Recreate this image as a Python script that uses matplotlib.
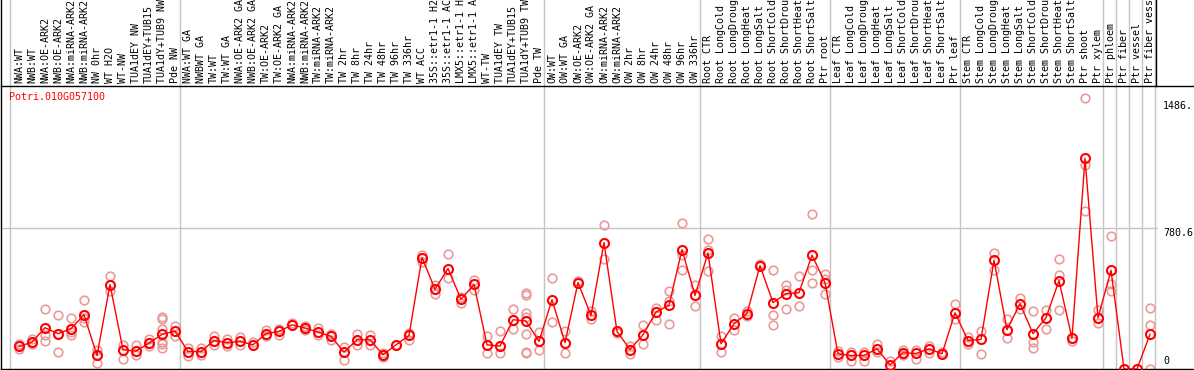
# Expressieprofiel Potri.010G057100
import matplotlib
matplotlib.use('Agg')
import matplotlib.pyplot as plt

# Labels per groep (zoals zichtbaar in de kop)
grp_nw = ["NWA:WT", "NWB:WT", "NWA:OE-ARK2", "NWB:OE-ARK2", "NWA:miRNA-ARK2", "NWB:miRNA-ARK2",
          "NW 0hr", "WT H2O", "WT-NW", "TUA1dEY NW", "TUA1dEY+TUB15", "TUA1dY+TUB9 NW", "Pde NW"]
grp_tw = ["NWA:WT GA", "NWBWT GA", "TW:WT", "TW:WT GA", "NWA:OE-ARK2 GA", "NWB:OE-ARK2 GA",
          "TW:OE-ARK2", "TW:OE-ARK2 GA", "NWA:miRNA-ARK2", "NWB:miRNA-ARK2", "TW:miRNA-ARK2",
          "TW:miRNA-ARK2", "TW 2hr", "TW 8hr", "TW 24hr", "TW 48hr", "TW 96hr", "TW 336hr",
          "WT ACC", "35S::etr1-1 H2", "35S::etr1-1 AC", "LMX5::etr1-1 H", "LMX5::etr1-1 A",
          "WT-TW", "TUA1dEY TW", "TUA1dEY+TUB15", "TUA1dY+TUB9 TW", "Pde TW"]
grp_ow = ["OW:WT", "OW:WT GA", "OW:OE-ARK2", "OW:OE-ARK2 GA", "OW:miRNA-ARK2", "OW:miRNA-ARK2",
          "OW 2hr", "OW 8hr", "OW 24hr", "OW 48hr", "OW 96hr", "OW 336hr"]
grp_root = ["Root CTR", "Root LongCold", "Root LongDroug", "Root LongHeat", "Root LongSalt",
            "Root ShortCold", "Root ShortDrou", "Root ShortHeat", "Root ShortSalt", "Ptr root"]
grp_leaf = ["Leaf CTR", "Leaf LongCold", "Leaf LongDroug", "Leaf LongHeat", "Leaf LongSalt",
            "Leaf ShortCold", "Leaf ShortDrou", "Leaf ShortHeat", "Leaf ShortSalt", "Ptr leaf"]
grp_stem = ["Stem CTR", "Stem LongCold", "Stem LongDroug", "Stem LongHeat", "Stem LongSalt",
            "Stem ShortCold", "Stem ShortDrou", "Stem ShortHeat", "Stem ShortSalt",
            "Ptr shoot", "Ptr xylem"]
grp_ptr = ["Ptr phloem", "Ptr fiber", "Ptr vessel", "Ptr fiber vess"]

groups = [grp_nw, grp_tw, grp_ow, grp_root, grp_leaf, grp_stem,
          grp_ptr[0:1], grp_ptr[1:2], grp_ptr[2:3], grp_ptr[3:4]]
labels = [l for g in groups for l in g]

# Gemiddelde expressie per staal
means = [125, 149, 229, 196, 223, 301, 75, 468, 107, 99, 143, 192, 210,
         97, 97, 158, 146, 153, 134, 196, 208, 245, 227, 205, 181, 94, 162, 162, 79, 134,
         186, 618, 442, 557, 386, 469, 134, 127, 273, 266, 153,
         384, 146, 479, 297, 701, 208, 108, 190, 316, 353, 662, 408,
         643, 140, 251, 307, 573, 368, 418, 423, 631, 479,
         84, 75, 75, 112, 23, 90, 86, 112, 84, 312,
         158, 164, 603, 218, 362, 196, 284, 490, 171, 1168, 284,
         547, 0, 0, 192]

# Replicaten per staal
reps = [[140, 112], [168, 136], [334, 186, 155], [301, 97, 196], [281, 186, 205],
        [384, 260, 280], [32, 103, 75], [514, 431], [57, 131], [131, 75], [168, 125],
        [288, 275, 223, 149, 140, 116], [236, 181],
        [116, 71], [116, 80], [181, 131], [165, 125], [175, 131], [150], [215, 181],
        [223, 186], [255], [236, 215], [229, 186], [196, 162], [121, 51], [192, 131],
        [190, 131], [88, 68], [134], [199, 162], [631, 593], [464, 414], [640, 507],
        [400, 366], [496, 436], [181, 90], [208, 90], [334, 223],
        [423, 410, 310, 290, 196, 97, 88], [205, 103],
        [507, 260], [208, 90], [490], [319, 279], [797, 612], [200], [127, 81],
        [245, 140], [340, 273], [431, 375, 251], [807, 631, 547], [464, 347],
        [718, 662, 542], [181, 94], [282, 218], [322, 292], [580], [551, 297, 245],
        [463, 440, 334], [514, 347], [862, 547, 479], [529, 500, 414],
        [100, 65], [95, 47], [95, 45], [140, 95], [43], [105, 75], [105, 57],
        [125, 90], [95], [362, 279],
        [177, 138], [210, 84], [643, 551], [279, 171], [396, 334], [319, 149, 116],
        [325, 223], [612, 523, 329], [153], [1501, 1131, 875], [329, 255],
        [736, 469, 432], [], [], [340, 242, 0]]

ytick_vals = [1486, 780.6, 0]
ytick_txt = ["1486.", "780.6", "0"]

mono = 'DejaVu Sans Mono'
W, H = 1194, 370

fig = plt.figure(figsize=(W / 100, H / 100), dpi=100)
# plotgebied: van px 1 tot rechterrand, onder px 369, boven px 86
ax = fig.add_axes([1 / W, 1 / H, (W - 1) / W, 283 / H])
ax.set_xlim((1 - 19) / 13, (W - 19) / 13)
ax.set_ylim(0, 1569)

# verticale scheidingslijnen tussen de groepen, doorgetrokken in de kop
head = 1 + 86 / 283
start = 0
for k, g in enumerate(groups):
    b = -0.68 if k == 0 else start - 0.62
    ax.axvline(b, ymin=0, ymax=head, color='#c4c4c4', lw=1, clip_on=False, zorder=0)
    start += len(g)
ax.axvline(start - 0.62, ymin=0, ymax=head, color='#c4c4c4', lw=1, clip_on=False, zorder=0)
ax.axvline(start - 0.55, ymin=1, ymax=head, color='black', lw=1, clip_on=False, zorder=0)
ax.axhline(780.6, xmin=0, xmax=1156 / (W - 1), color='#c4c4c4', lw=1, zorder=0)

# replicaten
for i, r in enumerate(reps):
    if len(r) > 0:
        ax.plot([i] * len(r), r, 'o', ms=6.2, mfc='none', mec='#eb9a9a', mew=1.2,
                clip_on=True, zorder=2)

# gemiddelden
xs = list(range(len(means)))
ax.plot(xs, means, '-', color='red', lw=1, zorder=3)
ax.plot(xs, means, 'o', ms=6.5, mfc='none', mec='red', mew=1.5, zorder=4)

# kop met labels
ax.xaxis.tick_top()
ax.set_xticks(xs)
ax.set_xticklabels(labels, rotation=90, fontfamily=mono, fontsize=7.2)
ax.tick_params(axis='x', length=0, pad=2.2)
ax.set_yticks([])

for s in ['left', 'top', 'bottom']:
    ax.spines[s].set_color('black')
    ax.spines[s].set_linewidth(1)
ax.spines['right'].set_visible(False)
ax.spines['left'].set_bounds(0, 1569 * head)
ax.spines['left'].set_clip_on(False)

# y-waarden rechts
xr = (1163 - 19) / 13
ax.text(xr, ytick_vals[0], ytick_txt[0], va='top', ha='left', fontfamily=mono, fontsize=7.2)
ax.text(xr, ytick_vals[1], ytick_txt[1], va='top', ha='left', fontfamily=mono, fontsize=7.2)
ax.text(xr, 18, ytick_txt[2], va='bottom', ha='left', fontfamily=mono, fontsize=7.2)

ax.text(8 / (W - 1), (369 - 97) / 283, "Potri.010G057100", transform=ax.transAxes,
        color='red', va='center', ha='left', fontfamily=mono, fontsize=7.2)

fig.savefig('out.png', dpi=100)
